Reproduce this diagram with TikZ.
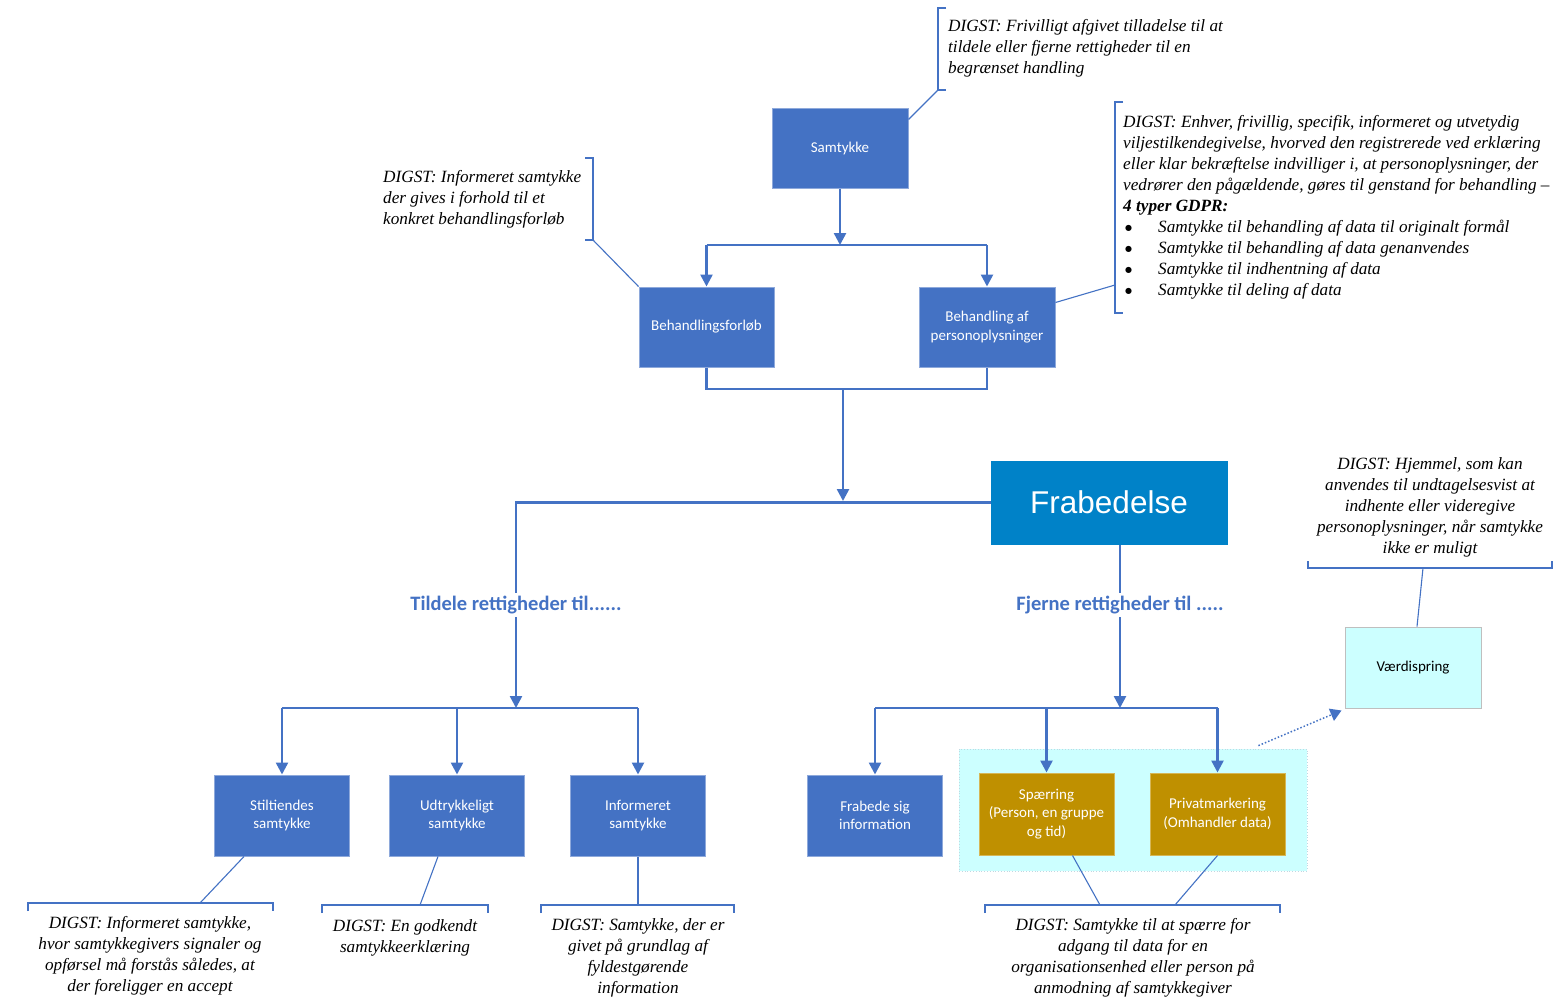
\documentclass[tikz,border=0pt]{standalone}
\usepackage{fontspec}
\setmainfont{Liberation Serif}
\newfontfamily\serf{Liberation Serif}
\newfontfamily\calfont{Carlito}
\newfontfamily\arfont{Liberation Sans}
\newfontfamily\dejavu{DejaVu Sans}
\usetikzlibrary{arrows.meta,calc}
\definecolor{bblue}{HTML}{4472C4}
\definecolor{boxedge}{HTML}{8EA9DB}
\definecolor{gold}{HTML}{BF9000}
\definecolor{goldedge}{HTML}{D6B656}
\definecolor{lcyan}{HTML}{CCFFFF}
\definecolor{frabblue}{HTML}{0082C8}
\newcommand{\bul}{\hspace*{2pt}\makebox[33pt][l]{\raisebox{2.5pt}{\dejavu\upshape\fontsize{8}{8}\selectfont ●}}}
\begin{document}
\begin{tikzpicture}[x=1pt,y=-1pt,
  box/.style={draw=boxedge, line width=1pt, fill=bblue, text=white, font=\calfont\fontsize{15}{18.5}\selectfont, minimum width=135pt, minimum height=80pt, align=center, inner sep=2pt},
  goldbox/.style={box, fill=gold, draw=goldedge, minimum height=82pt},
  conn/.style={draw=bblue, line width=2.5pt},
  arr/.style={conn, -{Triangle[width=12pt,length=12pt]}},
  callout/.style={draw=bblue, line width=1.1pt},
  note/.style={font=\serf\fontsize{17.2}{21}\selectfont\itshape, inner sep=0pt},
  midlabel/.style={font=\calfont\bfseries\fontsize{20.5}{22}\selectfont, text=bblue, inner sep=3pt}]
\useasboundingbox (0,0) rectangle (1558,999);
\fill[white] (0,0) rectangle (1558,999);

% container
\node[draw=cyan!40!gray!40, dotted, line width=0.8pt, fill=lcyan, minimum width=348pt, minimum height=122pt, inner sep=0pt] (cont) at (1133,810) {};

% boxes
\node[box, minimum width=136pt] (samtykke) at (840,148) {Samtykke};
\node[box] (behA) at (706.5,327) {Behandlingsforløb};
\node[box, minimum width=136pt] (behB) at (987,327) {Behandling af\\personoplysninger};
\node[box, fill=frabblue, draw=frabblue, minimum width=236pt, minimum height=83pt, font=\arfont\fontsize{31.5}{34}\selectfont] (frab) at (1109,502.5) {Frabedelse};
\node[box, minimum height=81pt] (stil) at (282,815.5) {Stiltiendes\\samtykke};
\node[box, minimum height=81pt] (udt) at (457,815.5) {Udtrykkeligt\\samtykke};
\node[box, minimum height=81pt] (inf) at (638,815.5) {Informeret\\samtykke};
\node[box, minimum height=81pt] (frabsig) at (875,815.5) {Frabede sig\\information};
\node[goldbox] (spaer) at (1046.5,814) {Spærring\\(Person, en gruppe\\og tid)};
\node[goldbox] (priv) at (1217.5,814) {Privatmarkering\\(Omhandler data)};
\node[box, fill=lcyan, draw=black!25, text=black, minimum width=136pt, minimum height=81pt] (vaerdi) at (1413,667.5) {Værdispring};

% mid labels
\node[midlabel] (tild) at (516,605) {Tildele rettigheder til......};
\node[midlabel] (fjern) at (1120,605) {Fjerne rettigheder til .....};

% main connectors
\coordinate (j1) at (840,245);
\draw[arr] (samtykke.south) -- (j1);
\draw[conn] (behA.north |- j1) -- (behB.north |- j1);
\draw[arr] (behA.north |- j1) -- (behA.north);
\draw[arr] (behB.north |- j1) -- (behB.north);
\coordinate (j2) at (843,389);
\draw[conn] (behA.south) |- (j2) -| (behB.south);
\coordinate (j3) at (843,501);
\draw[arr] (j2) -- (j3);
\draw[conn] (frab.west) -| (tild.north);
\coordinate (j4) at (516,708);
\draw[arr] (tild.south) -- (j4);
\draw[conn] (stil.north |- j4) -- (inf.north |- j4);
\draw[arr] (stil.north |- j4) -- (stil.north);
\draw[arr] (udt.north |- j4) -- (udt.north);
\draw[arr] (inf.north |- j4) -- (inf.north);
\draw[conn] (fjern.north |- frab.south) -- (fjern.north);
\coordinate (j5) at (1120,708);
\draw[arr] (fjern.south) -- (j5);
\draw[conn] (frabsig.north |- j5) -- (priv.north |- j5);
\draw[arr] (frabsig.north |- j5) -- (frabsig.north);
\draw[arr] (spaer.north |- j5) -- (spaer.north);
\draw[arr] (priv.north |- j5) -- (priv.north);

% dotted link
\draw[bblue, line width=1.5pt, dotted, -{Triangle[width=13pt,length=11pt]}] ($(cont.north east)+(-49,-3)$) -- ($(vaerdi.south west)+(-3,2)$);

% callout 1
\coordinate (c1) at (938,90);
\draw[callout] (946,8) -- (938,8) -- (c1) -- (946,90);
\draw[callout] (c1) -- ($(samtykke.north east)+(0,12)$);
\node[note, anchor=west, align=left] (n1) at (948,48) {DIGST: Frivilligt afgivet tilladelse til at\\tildele eller fjerne rettigheder til en\\begrænset handling};

% callout 2
\coordinate (c2) at (1115,285);
\draw[callout] (1123,102) -- (1115,102) -- (1115,313) -- (1123,313);
\draw[callout] (c2) -- ($(behB.north east)+(0,16)$);
\node[note, anchor=west, align=left] (n2) at (1123,207.5) {DIGST: Enhver, frivillig, specifik, informeret og utvetydig\\
viljestilkendegivelse, hvorved den registrerede ved erklæring\\
eller klar bekræftelse indvilliger i, at personoplysninger, der\\
vedrører den pågældende, gøres til genstand for behandling –\\
\textbf{4 typer GDPR:}\\
\bul Samtykke til behandling af data til originalt formål\\
\bul Samtykke til behandling af data genanvendes\\
\bul Samtykke til indhentning af data\\
\bul Samtykke til deling af data};

% callout 3
\coordinate (c3) at (593,240);
\draw[callout] (585,158) -- (593,158) -- (c3) -- (585,240);
\draw[callout] (c3) -- (behA.north west);
\node[note, anchor=west, align=left] (n3) at (383,199) {DIGST: Informeret samtykke\\der gives i forhold til et\\konkret behandlingsforløb};

% callout 4
\coordinate (c4) at (1423,568);
\draw[callout] (1308,561) -- (1308,568) -- (1552,568) -- (1552,561);
\draw[callout] (c4) -- ($(vaerdi.north)+(4,0)$);
\node[note, align=center] (n4) at (1430,507) {DIGST: Hjemmel, som kan\\anvendes til undtagelsesvist at\\indhente eller videregive\\personoplysninger, når samtykke\\ikke er muligt};

% callout 5
\coordinate (c5) at (200,903);
\draw[callout] (28,911) -- (28,903) -- (273,903) -- (273,911);
\draw[callout] (c5) -- ($(stil.south)+(-38,0)$);
\node[note, align=center] (n5) at (150,956) {DIGST: Informeret samtykke,\\hvor samtykkegivers signaler og\\opførsel må forstås således, at\\der foreligger en accept};

% callout 6
\coordinate (c6) at (420,905);
\draw[callout] (322,913) -- (322,905) -- (488,905) -- (488,913);
\draw[callout] (c6) -- ($(udt.south)+(-19,0)$);
\node[note, align=center] (n6) at (405,938) {DIGST: En godkendt\\samtykkeerklæring};

% callout 7
\coordinate (c7) at (638,905);
\draw[callout] (541,913) -- (541,905) -- (734,905) -- (734,913);
\draw[callout] (c7) -- (inf.south);
\node[note, align=center] (n7) at (638,958) {DIGST: Samtykke, der er\\givet på grundlag af\\fyldestgørende\\information};

% callout 8
\coordinate (c8a) at (1100,905);
\coordinate (c8b) at (1175,905);
\draw[callout] (985,913) -- (985,905) -- (1280,905) -- (1280,913);
\draw[callout] (c8a) -- ($(spaer.south)+(26,0)$);
\draw[callout] (c8b) -- (priv.south);
\node[note, align=center] (n8) at (1133,958) {DIGST: Samtykke til at spærre for\\adgang til data for en\\organisationsenhed eller person på\\anmodning af samtykkegiver};
\end{tikzpicture}
\end{document}
